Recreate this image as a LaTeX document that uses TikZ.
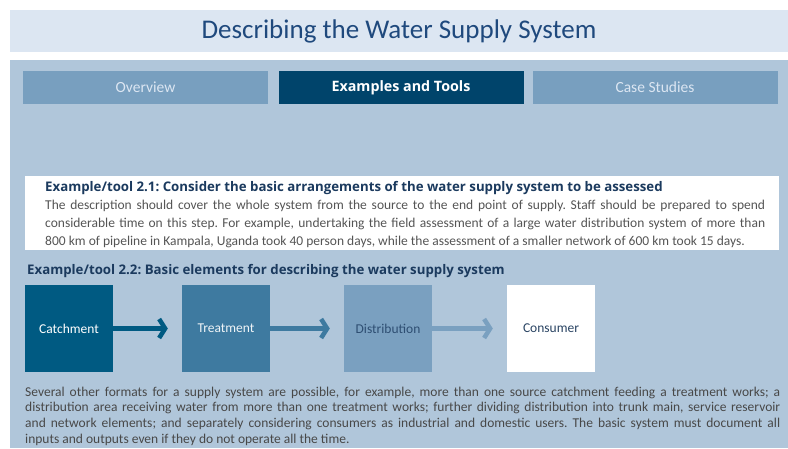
\documentclass[tikz,border=0pt]{standalone}
\usepackage{fontspec}
\setmainfont{Carlito}
\newfontfamily\headfont{Open Sans}
\usetikzlibrary{arrows.meta}
\frenchspacing

\definecolor{bandblue}{HTML}{DCE6F2}
\definecolor{titleblue}{HTML}{1F497D}
\definecolor{panelblue}{HTML}{B0C6DA}
\definecolor{tablight}{HTML}{789FBF}
\definecolor{tabdark}{HTML}{00446B}
\definecolor{catchblue}{HTML}{005A82}
\definecolor{treatblue}{HTML}{3E7AA0}
\definecolor{distblue}{HTML}{7AA0C0}
\definecolor{headnavy}{HTML}{1B3A5E}
\definecolor{bodygray}{HTML}{555555}

\begin{document}
\begin{tikzpicture}[x=1pt,y=1pt,
	tab/.style={minimum width=245pt,minimum height=33pt,inner sep=0pt,fill=tablight,text=bandblue,font=\fontsize{15.5}{18}\selectfont},
	stage/.style={minimum width=88pt,minimum height=87pt,inner sep=0pt,font=\fontsize{13.5}{15}\selectfont},
	flow/.style={line width=4.5pt,-{Straight Barb[length=6pt,width=19pt]},shorten >=14pt}]
		\useasboundingbox (0,0) rectangle (788,-448);
		% title band and panel
		\fill [bandblue] (10,-10) rectangle (788,-52);
		\node [text=titleblue,font=\fontsize{27}{30}\selectfont] (title) at (399,-31) {Describing the Water Supply System};
		\fill [panelblue] (10,-60) rectangle (788,-448);
		% tabs
		\node [tab] (overview) at (145.5,-87.5) {Overview};
		\node [tab,fill=tabdark,text=white,font=\fontsize{14.3}{18}\headfont\bfseries] (tools) at (401,-87.5) {Examples and Tools};
		\node [tab] (cases) at (655,-87.5) {Case Studies};
		% example 2.1
		\fill [white] (25,-176) rectangle (779,-250);
		\node [anchor=north west,text width=720pt,align=justify,inner sep=0pt,text=bodygray,font=\fontsize{13.5}{17.8}\selectfont] (ex21) at (45,-181.5)
			{{\color{headnavy}\headfont\bfseries\fontsize{13.25}{17.8}\selectfont Example/tool 2.1: Consider the basic arrangements of the water supply system to be assessed}\\
			The description should cover the whole system from the source to the end point of supply. Staff should be prepared to spend\linebreak
			considerable time on this step. For example, undertaking the field assessment of a large water distribution system of more than\linebreak
			800 km of pipeline in Kampala, Uganda took 40 person days, while the assessment of a smaller network of 600 km took 15 days.};
		% example 2.2
		\node [anchor=west,inner sep=0pt,text=headnavy,font=\fontsize{13.25}{15}\headfont\bfseries] (ex22) at (27,-271.5) {Example/tool 2.2: Basic elements for describing the water supply system};
		\node [stage,fill=catchblue,text=white] (catch) at (69,-328.5) {Catchment};
		\node [stage,fill=treatblue,text=white!92!treatblue] (treat) at (226,-328.5) {Treatment};
		\node [stage,fill=distblue,text=headnavy!80!distblue] (dist) at (388,-328.5) {Distribution};
		\node [stage,fill=white,text=headnavy!85!gray] (cons) at (551,-328.5) {Consumer};
		\draw [flow,catchblue] (catch) -- (treat);
		\draw [flow,treatblue] (treat) -- (dist);
		\draw [flow,distblue] (dist) -- (cons);
		% closing note
		\node [anchor=north west,text width=755pt,align=justify,inner sep=0pt,text=bodygray!85!black,font=\fontsize{13.5}{15.7}\selectfont] (note) at (25,-386.5)
			{Several other formats for a supply system are possible, for example, more than one source catchment feeding a treatment works; a\linebreak
			distribution area receiving water from more than one treatment works; further dividing distribution into trunk main, service reservoir\linebreak
			and network elements; and separately considering consumers as industrial and domestic users. The basic system must document all\linebreak
			inputs and outputs even if they do not operate all the time.};
	\end{tikzpicture}
\end{document}
